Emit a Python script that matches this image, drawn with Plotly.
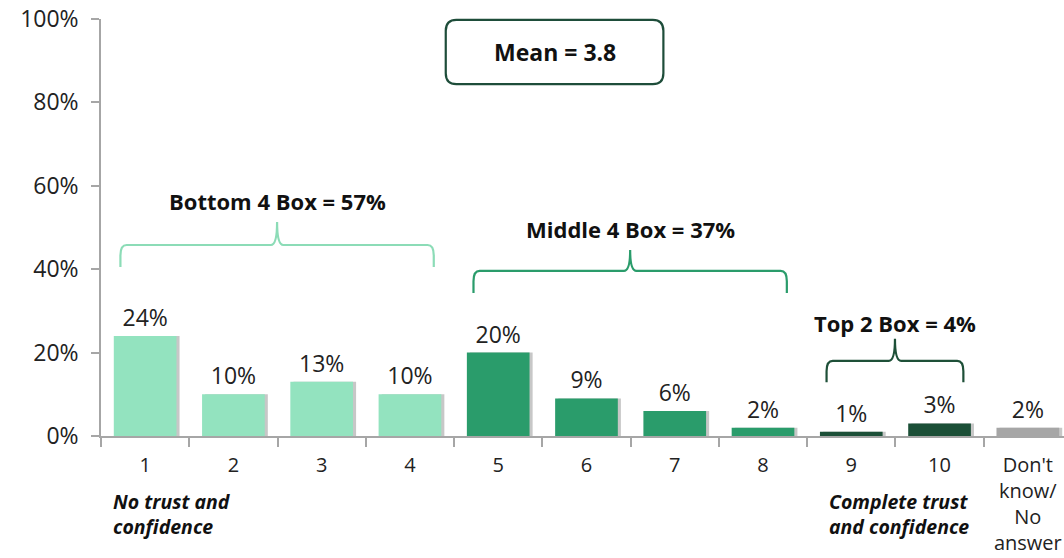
import plotly.graph_objects as go

# survey scale answers
categories = ["1", "2", "3", "4", "5", "6", "7", "8", "9", "10", "Don't<br>know/<br>No<br>answer"]
values = [24, 10, 13, 10, 20, 9, 6, 2, 1, 3, 2]
bar_colors = ["#93E3BF"] * 4 + ["#2A9C6B"] * 4 + ["#1B4F37"] * 2 + ["#A6A6A6"]

# box groupings: label, first index, last index, total
group_names = ["Bottom 4 Box", "Middle 4 Box", "Top 2 Box"]
group_first = [0, 4, 8]
group_last = [3, 7, 9]
group_totals = [57, 37, 4]
group_colors = ["#8CDCB7", "#2A9C6B", "#1E5038"]
mean_score = 3.8

FONT = "Open Sans"
xs = list(range(len(categories)))

fig = go.Figure()

# soft shadow on the right side of each bar
fig.add_trace(go.Bar(x=xs, y=values, width=0.71, offset=-0.355 + 0.035,
                     marker=dict(color="rgba(0,0,0,0.22)", line=dict(width=0)),
                     hoverinfo="skip", showlegend=False))
fig.add_trace(go.Bar(x=xs, y=values, width=0.71, offset=-0.355,
                     marker=dict(color=bar_colors, line=dict(width=0)),
                     text=[f"{v}%" for v in values], textposition="outside",
                     textfont=dict(family=FONT, size=23, color="#222222"),
                     cliponaxis=False, showlegend=False))

# braces over each group
shapes = []
annotations = []
brace_levels = [(40.5, 45.8, 51.3), (34.3, 39.6, 44.6), (12.9, 18.0, 23.3)]
label_levels = [56.4, 49.6, 27.0]
for name, a, b, tot, col, lv, ly in zip(group_names, group_first, group_last, group_totals,
                                        group_colors, brace_levels, label_levels):
    x0, x1 = a - 0.28, b + 0.27
    xm = (x0 + x1) / 2
    ye, yh, yt = lv
    rx, ry = 0.07, 2.5
    path = (f"M {x0},{ye} L {x0},{yh - ry} Q {x0},{yh} {x0 + rx},{yh} "
            f"L {xm - rx},{yh} Q {xm},{yh} {xm},{yt} Q {xm},{yh} {xm + rx},{yh} "
            f"L {x1 - rx},{yh} Q {x1},{yh} {x1},{yh - ry} L {x1},{ye}")
    shapes.append(dict(type="path", path=path, xref="x", yref="y",
                       line=dict(color=col, width=2.2)))
    annotations.append(dict(x=xm, y=ly, xref="x", yref="y", showarrow=False,
                            xanchor="center", yanchor="middle",
                            text=f"<b>{name} = {tot}%</b>",
                            font=dict(family=FONT, size=22, color="#111111")))

# mean box (rounded rectangle in paper coordinates)
bx0, bx1, by0, by1 = 0.358, 0.584, 0.844, 0.998
rx, ry = 0.011, 0.026
mean_path = (f"M {bx0 + rx},{by1} L {bx1 - rx},{by1} Q {bx1},{by1} {bx1},{by1 - ry} "
             f"L {bx1},{by0 + ry} Q {bx1},{by0} {bx1 - rx},{by0} L {bx0 + rx},{by0} "
             f"Q {bx0},{by0} {bx0},{by0 + ry} L {bx0},{by1 - ry} Q {bx0},{by1} {bx0 + rx},{by1} Z")
shapes.append(dict(type="path", path=mean_path, xref="paper", yref="paper",
                   line=dict(color="#1E4D3A", width=2.2), fillcolor="white"))
annotations.append(dict(x=(bx0 + bx1) / 2, y=(by0 + by1) / 2, xref="paper", yref="paper",
                        xanchor="center", yanchor="middle",
                        showarrow=False, text=f"<b>Mean = {mean_score}</b>",
                        font=dict(family=FONT, size=23, color="#111111")))

# scale end captions (below the axis, so y in paper units)
annotations.append(dict(x=-0.39, y=-0.188, xref="x", yref="paper", xanchor="left", yanchor="middle",
                        showarrow=False, align="left",
                        text="<b><i>No trust and<br>confidence</i></b>",
                        font=dict(family=FONT, size=19.5, color="#111111")))
annotations.append(dict(x=8.54, y=-0.188, xref="x", yref="paper", xanchor="center", yanchor="middle",
                        showarrow=False, align="left",
                        text="<b><i>Complete trust<br>and confidence</i></b>",
                        font=dict(family=FONT, size=19.5, color="#111111")))

fig.update_layout(
    width=1064, height=558,
    margin=dict(l=101, r=0, t=19, b=122, autoexpand=False),
    paper_bgcolor="white", plot_bgcolor="white",
    barmode="overlay",
    font=dict(family=FONT, color="#222222"),
    shapes=shapes, annotations=annotations,
    showlegend=False,
)
fig.update_xaxes(
    range=[-0.5, 10.41], tickmode="array", tickvals=xs, ticktext=categories,
    ticks="", showline=True, linecolor="#A6A6A6", linewidth=1.5,
    showgrid=False, zeroline=False, ticklabelstandoff=10, automargin=False,
    tickfont=dict(family=FONT, size=20, color="#222222"),
    minor=dict(tickmode="linear", tick0=-0.5, dtick=1, ticks="outside",
               ticklen=9, tickcolor="#A6A6A6", tickwidth=1.5, showgrid=False),
)
fig.update_yaxes(
    range=[0, 100], dtick=20, ticksuffix="%", ticks="outside", ticklen=8,
    tickcolor="#A6A6A6", tickwidth=1.5, showline=True, linecolor="#A6A6A6",
    linewidth=1.5, showgrid=False, zeroline=False, ticklabelstandoff=8, automargin=False,
    tickfont=dict(family=FONT, size=23, color="#222222"),
)

fig.write_html("out.html", config=dict(displayModeBar=False),
               post_script="document.body.style.margin='0';document.body.style.overflow='hidden';")
